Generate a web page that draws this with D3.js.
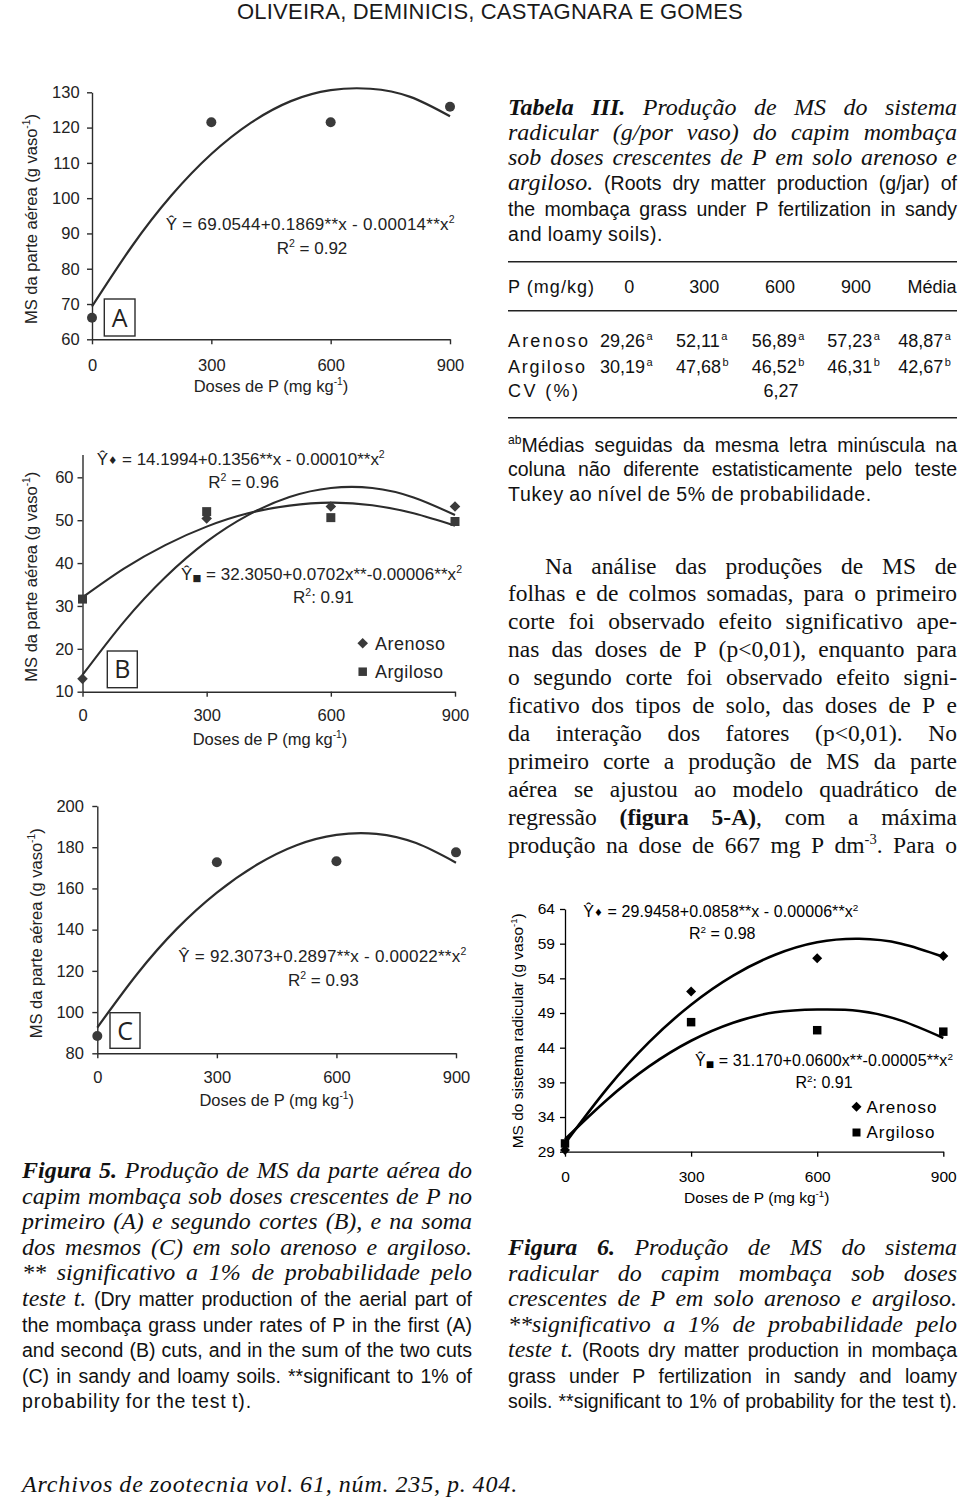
<!DOCTYPE html>
<html><head><meta charset="utf-8">
<script src="https://cdn.jsdelivr.net/npm/d3@7"></script>
<style>
html,body{margin:0;padding:0;background:#fff;}
svg{display:block;}
text{white-space:pre;}
</style></head>
<body>
<svg id="page" width="960" height="1502"></svg>
<script>
// ---------------- DATA ----------------
const doses = [0, 300, 600, 900];
const curveDoses = [0, 100, 200, 300, 400, 500, 600, 700, 800, 900];

// Figura 5 A (first cut)
const aPoints = [66.1, 121.5, 121.5, 125.9];
const aCurve = [69.3, 86.3, 100.8, 112.5, 121.4, 127.5, 130.6, 131.0, 128.7, 123.2];
const aYTicks = [60, 70, 80, 90, 100, 110, 120, 130];

// Figura 5 B (second cut)
const bArenoso = [13.0, 50.4, 53.2, 53.2];
const bArgiloso = [31.6, 52.0, 50.6, 49.7];
const bArenosoCurve = [13.9, 26.3, 36.7, 45.0, 51.2, 55.4, 57.5, 57.5, 55.3, 51.2];
const bArgilosoCurve = [32.0, 38.7, 44.2, 48.5, 51.6, 53.4, 54.1, 53.5, 51.6, 48.7];
const bYTicks = [10, 20, 30, 40, 50, 60];

// Figura 5 C (sum of cuts)
const cPoints = [88.4, 172.7, 173.2, 177.5];
const cCurve = [92.5, 118.5, 140.5, 158.0, 171.5, 181.0, 186.0, 186.5, 182.0, 172.5];
const cYTicks = [80, 100, 120, 140, 160, 180, 200];

// Figura 6 (roots)
const rootArenoso = [29.26, 52.11, 56.89, 57.23];
const rootArgiloso = [30.19, 47.68, 46.52, 46.31];
const rootArenosoCurve = [30.2, 38.1, 44.8, 50.2, 54.4, 57.4, 59.2, 59.7, 59.0, 57.1];
const rootArgilosoCurve = [30.8, 36.5, 41.3, 45.0, 47.6, 49.1, 49.5, 49.3, 47.9, 45.4];
const rootYTicks = [29, 34, 39, 44, 49, 54, 59, 64];

// Tabela III
const tableHeader = ["P (mg/kg)", "0", "300", "600", "900", "Média"];
const tableArenoso = ["29,26", "52,11", "56,89", "57,23", "48,87"];
const tableArenosoLetters = ["a", "a", "a", "a", "a"];
const tableArgiloso = ["30,19", "47,68", "46,52", "46,31", "42,67"];
const tableArgilosoLetters = ["a", "b", "b", "b", "b"];
const tableCV = "6,27";

// Texts
const headerText = "OLIVEIRA, DEMINICIS, CASTAGNARA E GOMES";
const footerText = "Archivos de zootecnia vol. 61, núm. 235, p. 404.";
const tableTitleLines = [
  [["Tabela III.", "sbi"], [" Produção de MS do sistema", "si"]],
  [["radicular (g/por vaso) do capim mombaça", "si"]],
  [["sob doses crescentes de P em solo arenoso e", "si"]],
  [["argiloso.", "si"], [" (Roots dry matter production (g/jar) of", "a"]],
  [["the mombaça grass under P fertilization in sandy", "a"]],
  [["and loamy soils).", "a"]]
];
const footnoteLines = [
  [["ab", "a^"], ["Médias seguidas da mesma letra minúscula na", "a"]],
  [["coluna não diferente estatisticamente pelo teste", "a"]],
  [["Tukey ao nível de 5% de probabilidade.", "a"]]
];
const paragraphLines = [
  [["Na análise das produções de MS de", "s"]],
  [["folhas e de colmos somadas, para o primeiro", "s"]],
  [["corte foi observado efeito significativo ape-", "s"]],
  [["nas das doses de P (p<0,01), enquanto para", "s"]],
  [["o segundo corte foi observado efeito signi-", "s"]],
  [["ficativo dos tipos de solo, das doses de P e", "s"]],
  [["da interação dos fatores (p<0,01). No", "s"]],
  [["primeiro corte a produção de MS da parte", "s"]],
  [["aérea se ajustou ao modelo quadrático de", "s"]],
  [["regressão ", "s"], ["(figura 5-A)", "sb"], [", com a máxima", "s"]],
  [["produção na dose de 667 mg P dm", "s"], ["-3", "s^"], [". Para o", "s"]]
];
const fig5CaptionLines = [
  [["Figura 5.", "sbi"], [" Produção de MS da parte aérea do", "si"]],
  [["capim mombaça sob doses crescentes de P no", "si"]],
  [["primeiro (A) e segundo cortes (B), e na soma", "si"]],
  [["dos mesmos (C) em solo arenoso e argiloso.", "si"]],
  [["** significativo a 1% de probabilidade pelo", "si"]],
  [["teste t.", "si"], [" (Dry matter production of the aerial part of", "a"]],
  [["the mombaça grass under rates of P in the first (A)", "a"]],
  [["and second (B) cuts, and in the sum of the two cuts", "a"]],
  [["(C) in sandy and loamy soils. **significant to 1% of", "a"]],
  [["probability for the test t).", "a"]]
];
const fig6CaptionLines = [
  [["Figura 6.", "sbi"], [" Produção de MS do sistema", "si"]],
  [["radicular do capim mombaça sob doses", "si"]],
  [["crescentes de P em solo arenoso e argiloso.", "si"]],
  [["**significativo a 1% de probabilidade pelo", "si"]],
  [["teste t.", "si"], [" (Roots dry matter production in mombaça", "a"]],
  [["grass under P fertilization in sandy and loamy", "a"]],
  [["soils. **significant to 1% of probability for the test t).", "a"]]
];

// ---------------- RENDER ----------------
const SERIF = "'Liberation Serif','Times New Roman',serif";
const SANS = "'Liberation Sans',Arial,Helvetica,sans-serif";
const SYM = "'DejaVu Sans',sans-serif";
const svg = d3.select('#page');
svg.append('rect').attr('width', 960).attr('height', 1502).attr('fill', '#fff');

function toWords(runs) {
  const words = []; let cur = null;
  runs.forEach(([t, s]) => {
    const parts = t.split(' ');
    parts.forEach((p, i) => {
      if (i > 0 && cur) { words.push(cur); cur = null; }
      if (p.length) { if (!cur) cur = []; cur.push({ t: p, s }); }
    });
  });
  if (cur) words.push(cur);
  return words;
}
function renderWord(g, word, y, sizes, fill) {
  const t = g.append('text').attr('x', 0).attr('y', y).attr('fill', fill);
  let shift = 0;
  word.forEach(p => {
    const st = p.s;
    const sans = st.includes('a');
    const fs = sans ? sizes.sans : sizes.serif;
    const ts = t.append('tspan').text(p.t)
      .attr('font-family', sans ? SANS : SERIF)
      .attr('font-style', st.includes('i') ? 'italic' : 'normal')
      .attr('font-weight', st.includes('b') ? 'bold' : 'normal');
    let d = 0;
    if (st.includes('^')) { ts.attr('font-size', fs * 0.62); d = -fs * 0.38; }
    else ts.attr('font-size', fs);
    if (d !== shift) { ts.attr('dy', d - shift); shift = d; }
  });
  return t;
}
function layoutLine(g, runs, o) {
  const sizes = o.sizes;
  const words = toWords(runs);
  const nodes = words.map(w => renderWord(g, w, o.y, sizes, o.fill || '#111'));
  let widths = nodes.map(n => n.node().getComputedTextLength());
  const indent = o.indent || 0;
  const avail = o.w - indent;
  const nch = d3.sum(words, w => d3.sum(w, p => p.t.length));
  const spaceW = (i) => (words[i][0].s.includes('a') ? 0.278 * sizes.sans : 0.25 * sizes.serif);
  let gaps = words.map((w, i) => i === 0 ? 0 : spaceW(i));
  if (o.justify && words.length > 1) {
    let sum = d3.sum(widths);
    const minGap = 0.16 * sizes.serif;
    let gap = (avail - sum) / (words.length - 1);
    if (gap < minGap) {
      const ls = (avail - sum - minGap * (words.length - 1)) / nch;
      nodes.forEach(n => n.attr('letter-spacing', ls));
      widths = nodes.map(n => n.node().getComputedTextLength());
      sum = d3.sum(widths);
      gap = (avail - sum) / (words.length - 1);
    }
    gaps = words.map((w, i) => i === 0 ? 0 : gap);
  } else if (o.w && o.fit) {
    const natural = d3.sum(widths) + d3.sum(gaps);
    const ls = (avail - natural) / nch;
    nodes.forEach(n => n.attr('letter-spacing', ls));
    widths = nodes.map(n => n.node().getComputedTextLength());
  }
  let cx = o.x + indent;
  nodes.forEach((n, i) => { cx += gaps[i]; n.attr('x', cx); cx += widths[i]; });
}
function block(lines, o) {
  const g = svg.append('g');
  lines.forEach((runs, i) => {
    const last = i === lines.length - 1;
    const lo = Object.assign({}, o, { y: o.y0 + o.lh * i, justify: o.justifyLast || !last, indent: i === 0 ? (o.indent || 0) : 0 });
    if (last && o.lastW) { lo.w = o.lastW; lo.fit = true; }
    layoutLine(g, runs, lo);
  });
}

// Header & footer
layoutLine(svg.append('g'), [[headerText, "a"]], { x: 237, w: 506, y: 18.5, sizes: { serif: 22, sans: 22 }, fit: true, fill: '#1a1a1a' });
layoutLine(svg.append('g'), [[footerText, "si"]], { x: 22, w: 496, y: 1492, sizes: { serif: 24, sans: 24 }, fit: true, fill: '#111' });

const SZ = { serif: 24, sans: 19.5 };
block(tableTitleLines, { x: 508, w: 449, y0: 114.5, lh: 25.3, sizes: SZ, lastW: 155 });
block(footnoteLines, { x: 508, w: 449, y0: 451.7, lh: 24.6, sizes: SZ, lastW: 364 });
block(paragraphLines, { x: 508, w: 449, y0: 573.5, lh: 27.9, sizes: { serif: 23.5, sans: 19.5 }, indent: 37, justifyLast: true });
block(fig5CaptionLines, { x: 22, w: 450, y0: 1178, lh: 25.6, sizes: SZ, lastW: 230 });
block(fig6CaptionLines, { x: 508, w: 449, y0: 1255, lh: 25.5, sizes: SZ, justifyLast: true });

// ---- Table III ----
(function table() {
  const g = svg.append('g').attr('font-family', SANS).attr('fill', '#111');
  [261.7, 310.7, 417.7].forEach(yy => g.append('line').attr('x1', 508).attr('x2', 957).attr('y1', yy).attr('y2', yy).attr('stroke', '#222').attr('stroke-width', 1.4));
  const hx = [508, 629.3, 704.3, 780, 856, 956.5];
  const ha = ['start', 'middle', 'middle', 'middle', 'middle', 'end'];
  tableHeader.forEach((h, i) => {
    const t = g.append('text').attr('x', hx[i]).attr('y', 293.3).attr('font-size', 18).attr('text-anchor', ha[i]).text(h);
    if (i === 0) t.attr('textLength', 86).attr('lengthAdjust', 'spacing');
  });
  const vx = [600, 676, 751.7, 827.3, 898.3];
  function row(label, len, vals, letters, yy) {
    g.append('text').attr('x', 508).attr('y', yy).attr('font-size', 18).attr('textLength', len).attr('lengthAdjust', 'spacing').text(label);
    vals.forEach((v, i) => {
      const t = g.append('text').attr('x', vx[i]).attr('y', yy).attr('font-size', 18);
      t.append('tspan').text(v);
      t.append('tspan').text(letters[i]).attr('font-size', 11).attr('dy', -6.5).attr('dx', 1.5);
    });
  }
  row("Arenoso", 80, tableArenoso, tableArenosoLetters, 346.7);
  row("Argiloso", 77, tableArgiloso, tableArgilosoLetters, 372.7);
  g.append('text').attr('x', 508).attr('y', 396.7).attr('font-size', 18).attr('textLength', 70).attr('lengthAdjust', 'spacing').text("CV (%)");
  g.append('text').attr('x', 781).attr('y', 396.7).attr('font-size', 18).attr('text-anchor', 'middle').text(tableCV);
})();

// ---- chart helpers ----
function richText(parent, x, y, runs, o) {
  const t = parent.append('text').attr('x', x).attr('y', y)
    .attr('font-family', SANS).attr('font-size', o.fs).attr('fill', o.fill)
    .attr('text-anchor', o.anchor || 'start');
  if (o.rotate) t.attr('transform', `rotate(${o.rotate},${x},${y})`);
  let shift = 0;
  runs.forEach(([s, f = '']) => {
    const ts = t.append('tspan').text(s);
    let d = 0;
    if (f === '^') { ts.attr('font-size', o.fs * 0.62); d = -o.fs * 0.4; }
    else if (f === 'dia') { ts.attr('font-family', SYM).attr('font-size', o.fs * 0.62); d = -o.fs * 0.06; }
    else if (f === 'sq') { ts.attr('font-family', SYM).attr('font-size', o.fs * 0.55); d = o.fs * 0.04; }
    if (d !== shift) { ts.attr('dy', d - shift); shift = d; }
  });
  if (o.len) t.attr('textLength', o.len).attr('lengthAdjust', 'spacing');
  return t;
}

function drawChart(c) {
  const g = svg.append('g');
  const x = d3.scaleLinear().domain([0, 900]).range(c.xr);
  const y = d3.scaleLinear().domain(c.yd).range(c.yr);
  const xa = g.append('g').attr('transform', `translate(0,${c.yr[0]})`)
    .call(d3.axisBottom(x).tickValues(doses).tickSize(c.tick).tickSizeOuter(0).tickPadding(c.xpad).tickFormat(d3.format('d')));
  const ya = g.append('g').attr('transform', `translate(${c.xr[0]},0)`)
    .call(d3.axisLeft(y).tickValues(c.yticks).tickSize(c.tick).tickSizeOuter(0).tickPadding(c.ypad).tickFormat(d3.format('d')));
  [xa, ya].forEach(a => {
    a.select('.domain').attr('stroke', c.ink).attr('stroke-width', c.axisW);
    a.selectAll('.tick line').attr('stroke', c.ink).attr('stroke-width', c.axisW);
    a.selectAll('.tick text').attr('fill', c.txt).attr('font-family', SANS).attr('font-size', c.tickFs);
  });
  richText(g, c.xTitle[0], c.xTitle[1], [["Doses de P (mg kg"], ["-1", "^"], [")"]], { fs: c.titleFs, fill: c.txt, anchor: 'middle' });
  richText(g, c.yTitle[0], c.yTitle[1], [[c.yTitleText], ["-1", "^"], [")"]], { fs: c.titleFs, fill: c.txt, anchor: 'middle', rotate: -90 });
  const line = d3.line().x((d, i) => x(curveDoses[i])).y(d => y(d)).curve(d3.curveNatural);
  c.curves.forEach(cv => g.append('path').attr('d', line(cv)).attr('fill', 'none').attr('stroke', c.ink).attr('stroke-width', c.lineW).attr('stroke-linejoin', 'round'));
  c.series.forEach(s => {
    s.vals.forEach((v, i) => drawMarker(g, s.shape, x(doses[i]), y(v), c.mark, s.size));
  });
  c.texts.forEach(tx => richText(g, tx.x, tx.y, tx.runs, { fs: tx.fs || c.eqFs, fill: c.txt, len: tx.len }));
  (c.legend || []).forEach(l => {
    drawMarker(g, l.shape, l.mx, l.my, c.mark, l.size);
    g.append('text').attr('x', l.tx).attr('y', l.ty).attr('font-family', SANS).attr('font-size', l.fs).attr('fill', c.txt)
      .attr('textLength', l.len).attr('lengthAdjust', 'spacing').text(l.label);
  });
  if (c.box) {
    const b = c.box;
    g.append('rect').attr('x', b.x).attr('y', b.y).attr('width', b.w).attr('height', b.h).attr('fill', '#fff').attr('stroke', c.ink).attr('stroke-width', 1.4);
    g.append('text').attr('x', b.x + b.w / 2).attr('y', b.y + b.h / 2 + 9).attr('text-anchor', 'middle').attr('font-family', "'Open Sans',Roboto,sans-serif").attr('font-size', 25).attr('fill', c.txt).text(b.label);
  }
  return { x, y };
}
function drawMarker(g, shape, px, py, color, size) {
  if (shape === 'circle') g.append('circle').attr('cx', px).attr('cy', py).attr('r', size).attr('fill', color);
  else if (shape === 'diamond') g.append('path').attr('d', d3.symbol(d3.symbolSquare, size)()).attr('transform', `translate(${px},${py}) rotate(45)`).attr('fill', color);
  else g.append('path').attr('d', d3.symbol(d3.symbolSquare, size)()).attr('transform', `translate(${px},${py})`).attr('fill', color);
}

const INK = '#2c2c2c', TXT = '#222', MARK = '#3a3a3a';
const YT5 = "MS da parte aérea (g vaso";

drawChart({
  xr: [92, 450], yd: [60, 130], yr: [339.3, 92.3], yticks: aYTicks,
  tick: 5, ypad: 7.4, xpad: 15, tickFs: 16.5, titleFs: 16.5, eqFs: 17,
  ink: INK, txt: TXT, mark: MARK, axisW: 1.4, lineW: 2.2,
  xTitle: [271, 391.5], yTitle: [36.8, 219], yTitleText: YT5,
  curves: [aCurve],
  series: [{ vals: aPoints, shape: 'circle', size: 5 }],
  texts: [
    { x: 165.7, y: 230, runs: [["Ŷ = 69.0544+0.1869**x - 0.00014**x"], ["2", "^"]], len: 289 },
    { x: 276.7, y: 254, runs: [["R"], ["2", "^"], [" = 0.92"]] }
  ],
  box: { x: 104.3, y: 299, w: 30.7, h: 37, label: 'A' }
});

drawChart({
  xr: [82.5, 455], yd: [10, 65.3], yr: [691.7, 454.6], yticks: bYTicks,
  tick: 5, ypad: 4, xpad: 12.6, tickFs: 16.5, titleFs: 16.5, eqFs: 17,
  ink: INK, txt: TXT, mark: MARK, axisW: 1.4, lineW: 2.1,
  xTitle: [270, 745], yTitle: [36.8, 576.7], yTitleText: YT5,
  curves: [bArenosoCurve, bArgilosoCurve],
  series: [{ vals: bArenoso, shape: 'diamond', size: 56 }, { vals: bArgiloso, shape: 'square', size: 81 }],
  texts: [
    { x: 96.7, y: 465, runs: [["Ŷ"], ["♦", "dia"], [" = 14.1994+0.1356**x - 0.00010**x"], ["2", "^"]], len: 288 },
    { x: 208.3, y: 487.5, runs: [["R"], ["2", "^"], [" = 0.96"]] },
    { x: 181, y: 580, runs: [["Ŷ"], ["■", "sq"], [" = 32.3050+0.0702x**-0.00006**x"], ["2", "^"]], len: 281 },
    { x: 293, y: 603, runs: [["R"], ["2", "^"], [": 0.91"]] }
  ],
  legend: [
    { shape: 'diamond', size: 56, mx: 362.7, my: 643.3, tx: 375, ty: 650, label: 'Arenoso', fs: 18, len: 70 },
    { shape: 'square', size: 72, mx: 362.7, my: 671.7, tx: 375, ty: 677.5, label: 'Argiloso', fs: 18, len: 68 }
  ],
  box: { x: 107.3, y: 651, w: 30, h: 36.7, label: 'B' }
});

drawChart({
  xr: [97.3, 456], yd: [80, 200], yr: [1053.3, 806], yticks: cYTicks,
  tick: 5, ypad: 8.4, xpad: 13, tickFs: 16.5, titleFs: 16.5, eqFs: 17,
  ink: INK, txt: TXT, mark: MARK, axisW: 1.4, lineW: 2.2,
  xTitle: [276.7, 1105.6], yTitle: [41.8, 933.3], yTitleText: YT5,
  curves: [cCurve],
  series: [{ vals: cPoints, shape: 'circle', size: 5 }],
  texts: [
    { x: 178.3, y: 961.5, runs: [["Ŷ = 92.3073+0.2897**x - 0.00022**x"], ["2", "^"]], len: 288 },
    { x: 288, y: 986, runs: [["R"], ["2", "^"], [" = 0.93"]] }
  ],
  box: { x: 110, y: 1012.7, w: 30, h: 35.6, label: 'C' }
});

drawChart({
  xr: [565, 943.3], yd: [29, 64], yr: [1151.7, 909], yticks: rootYTicks,
  tick: 5, ypad: 5, xpad: 14, tickFs: 15.5, titleFs: 15.5, eqFs: 16,
  ink: '#000', txt: '#000', mark: '#000', axisW: 1.3, lineW: 2.6,
  xTitle: [756.7, 1203], yTitle: [523, 1030.8], yTitleText: "MS do sistema radicular (g vaso",
  curves: [rootArenosoCurve, rootArgilosoCurve],
  series: [{ vals: rootArenoso, shape: 'diamond', size: 50 }, { vals: rootArgiloso, shape: 'square', size: 72 }],
  texts: [
    { x: 583.3, y: 917, runs: [["Ŷ"], ["♦", "dia"], [" = 29.9458+0.0858**x - 0.00006**x"], ["2", "^"]], len: 275 },
    { x: 689, y: 939, runs: [["R"], ["2", "^"], [" = 0.98"]] },
    { x: 695, y: 1066, runs: [["Ŷ"], ["■", "sq"], [" = 31.170+0.0600x**-0.00005**x"], ["2", "^"]], len: 258 },
    { x: 795.5, y: 1088, runs: [["R"], ["2", "^"], [": 0.91"]] }
  ],
  legend: [
    { shape: 'diamond', size: 50, mx: 856.5, my: 1106.7, tx: 866.5, ty: 1112.7, label: 'Arenoso', fs: 17, len: 70 },
    { shape: 'square', size: 64, mx: 856.5, my: 1132.5, tx: 866.5, ty: 1138.3, label: 'Argiloso', fs: 17, len: 68 }
  ]
});
</script>
</body></html>
